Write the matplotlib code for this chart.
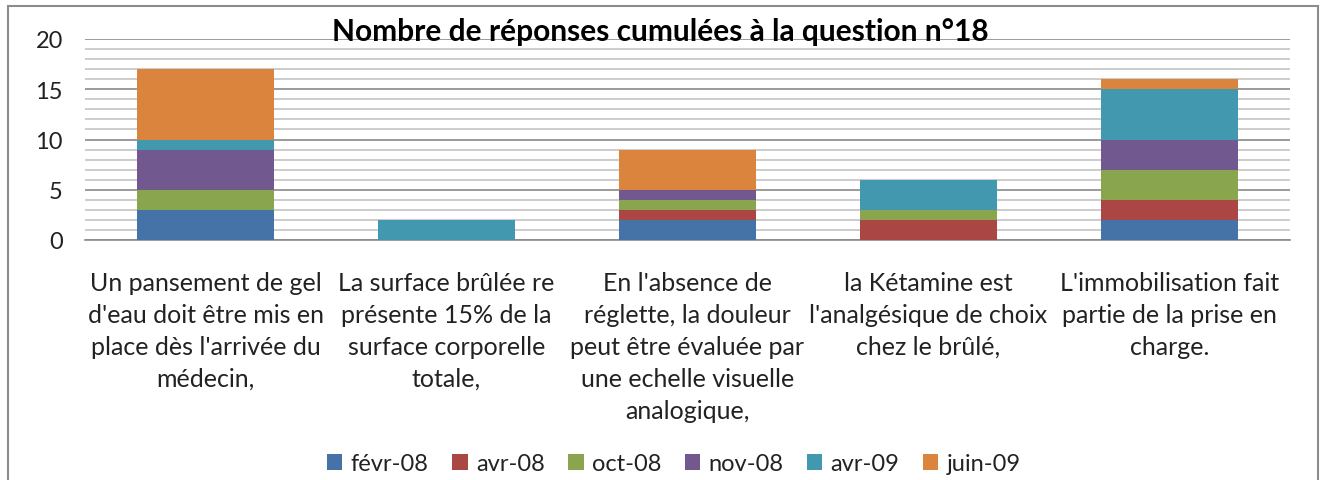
import matplotlib
matplotlib.use("Agg")
import matplotlib.pyplot as plt
from matplotlib.patches import Rectangle
import numpy as np

plt.rcParams['font.family'] = ['Lato', 'DejaVu Sans']

categories = [
    "Un pansement de gel\nd'eau doit être mis en\nplace dès l'arrivée du\nmédecin,",
    "La surface brûlée re\nprésente 15% de la\nsurface corporelle\ntotale,",
    "En l'absence de\nréglette, la douleur\npeut être évaluée par\nune echelle visuelle\nanalogique,",
    "la Kétamine est\nl'analgésique de choix\nchez le brûlé,",
    "L'immobilisation fait\npartie de la prise en\ncharge.",
]
series_names = ["févr-08", "avr-08", "oct-08", "nov-08", "avr-09", "juin-09"]
fevr_08 = [3, 0, 2, 0, 2]
avr_08 = [0, 0, 1, 2, 2]
oct_08 = [2, 0, 1, 1, 3]
nov_08 = [4, 0, 1, 0, 3]
avr_09 = [1, 2, 0, 3, 5]
juin_09 = [7, 0, 4, 0, 1]
series_values = [fevr_08, avr_08, oct_08, nov_08, avr_09, juin_09]
colors = ["#4572A7", "#AA4643", "#89A54E", "#71588F", "#4198AF", "#DB843D"]
title = "Nombre de réponses cumulées à la question n°18"

fig = plt.figure(figsize=(13.22, 4.81), dpi=100)
ax = fig.add_axes([85 / 1322, 1 - 241 / 481, 1205 / 1322, 201 / 481])

# outer chart frame
fig.patches.append(Rectangle((8 / 1322, -0.1), 1310 / 1322, 1.1 - 7 / 481,
                             transform=fig.transFigure, fill=False,
                             edgecolor="#8c8c8c", linewidth=1.5, zorder=0))

x = np.arange(len(categories))
bottom = np.zeros(len(categories))
handles = []
for name, vals, c in zip(series_names, series_values, colors):
    v = np.array(vals, dtype=float)
    b = ax.bar(x, v, width=0.57, bottom=bottom, color=c, label=name, zorder=3)
    handles.append(b)
    bottom += v

ax.set_xlim(-0.5, len(categories) - 0.5)
ax.set_ylim(0, 20)
ax.set_yticks([0, 5, 10, 15, 20])
ax.set_yticks(np.arange(0, 21, 1), minor=True)
ax.yaxis.grid(True, which="major", color="#8a8a8a", linewidth=1.2, zorder=0)
ax.yaxis.grid(True, which="minor", color="#c4c4c4", linewidth=1.2, zorder=0)
ax.set_axisbelow(True)
for s in ["top", "right", "left"]:
    ax.spines[s].set_visible(False)
ax.spines["bottom"].set_color("#8a8a8a")
ax.spines["bottom"].set_linewidth(1.2)
ax.tick_params(axis="y", which="both", length=0, pad=16, labelsize=17, labelcolor="#222222")
ax.tick_params(axis="x", length=0, pad=22)
ax.set_xticks(x)
ax.set_xticklabels(categories, fontsize=18, color="#222222", linespacing=1.48)

fig.text(660 / 1322, 1 - 32 / 481, title, ha="center", va="center",
         fontsize=21.5, fontweight="bold", color="black")

fig.legend(handles=handles, labels=series_names, loc="center",
           bbox_to_anchor=(674 / 1322, 1 - 465 / 481), ncol=6, frameon=False,
           fontsize=17, handlelength=0.65, handleheight=0.65, handletextpad=0.35,
           columnspacing=1.0, labelcolor="#222222")

fig.savefig("out.png", dpi=100)
